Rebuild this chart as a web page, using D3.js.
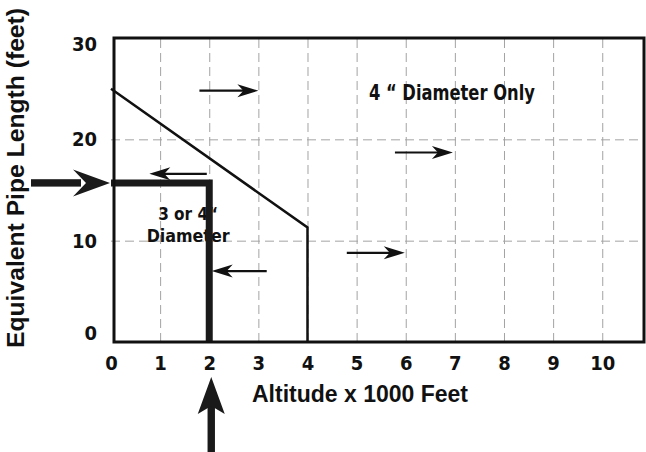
<!DOCTYPE html>
<html><head><meta charset="utf-8">
<script src="https://cdn.jsdelivr.net/npm/d3@7"></script>
<style>
body{margin:0;background:#fff}
svg text{font-family:"Liberation Sans Narrow","DejaVu Sans Condensed","Arial Narrow",sans-serif;font-weight:bold;fill:#111}
svg text.title{font-family:"Liberation Sans",Arial,Helvetica,sans-serif}
</style></head><body>
<script>
// axis ticks
const xTicks = [0, 1, 2, 3, 4, 5, 6, 7, 8, 9, 10];
const yTicks = [0, 10, 20, 30];
// altitude (x1000 ft) vs equivalent pipe length (ft)
const boundary = [[0, 25], [4, 11.3], [4, 0]];
const example = [[0, 15.7], [2, 15.7], [2, 0]];
// small arrows: from x, to x, at y
const arrowFrom = [1.8, 1.95, 3.17, 4.8, 5.78];
const arrowTo   = [3.0, 0.78, 2.05, 5.98, 6.96];
const arrowY    = [24.8, 16.6, 7.0, 8.8, 18.7];
// notes inside the chart
const noteText = ["4 \u201C Diameter Only", "3 or 4\u201C", "Diameter"];
const noteX = [5.25, 1.57, 1.57];
const noteY = [23.9, 12.0, 9.9];
const noteWidth = [166, 60, 83];

const w = 646, h = 452;
const svg = d3.select("body").append("svg").attr("width", w).attr("height", h);

const x = d3.scaleLinear().domain([0, 10.85]).range([111, 644]);
const y = d3.scaleLinear().domain([0, 30]).range([342, 38]);

// grid
const grid = svg.append("g");
grid.append("g").attr("transform", `translate(0,${y(0)})`)
  .call(d3.axisBottom(x).tickValues(xTicks.slice(1)).tickSize(-(y(0) - y(30))).tickFormat(""));
grid.append("g").attr("transform", `translate(${x(0)},0)`)
  .call(d3.axisLeft(y).tickValues([10, 20]).tickSize(-(x(10.85) - x(0))).tickFormat(""));
grid.selectAll(".domain").remove();
grid.selectAll(".tick line").attr("stroke", "#a3a3a3").attr("stroke-width", 1).attr("stroke-dasharray", "9,5");

// notes
svg.append("g").selectAll("text").data(noteText).enter().append("text")
  .attr("x", (d, i) => x(noteX[i]))
  .attr("y", (d, i) => y(noteY[i]))
  .attr("text-anchor", (d, i) => i === 0 ? "start" : "middle")
  .attr("font-size", (d, i) => i === 0 ? 20.5 : 18.5)
  .attr("textLength", (d, i) => noteWidth[i])
  .attr("lengthAdjust", "spacingAndGlyphs")
  .text(d => d);

const line = d3.line().x(d => x(d[0])).y(d => y(d[1]));

svg.append("path").datum(boundary).attr("d", line)
  .attr("fill", "none").attr("stroke", "#111").attr("stroke-width", 2.5);

// small arrows
const arrows = svg.append("g");
arrowY.forEach((v, i) => {
  const x0 = x(arrowFrom[i]), x1 = x(arrowTo[i]), yy = y(v);
  const dir = x1 > x0 ? 1 : -1;
  arrows.append("line").attr("x1", x0).attr("x2", x1 - dir * 8).attr("y1", yy).attr("y2", yy)
    .attr("stroke", "#111").attr("stroke-width", 2.2);
  arrows.append("path")
    .attr("d", `M${x1},${yy} L${x1 - dir * 21},${yy - 6.5} L${x1 - dir * 15},${yy} L${x1 - dir * 21},${yy + 6.5} Z`)
    .attr("fill", "#111");
});

// example path
svg.append("path").datum(example).attr("d", line)
  .attr("fill", "none").attr("stroke", "#1a1a1a").attr("stroke-width", 7)
  .attr("stroke-linejoin", "miter");

// frame
svg.append("rect").attr("x", x(0) + 3).attr("y", y(30)).attr("width", x(10.85) - x(0) - 3)
  .attr("height", y(0) - y(30)).attr("fill", "none").attr("stroke", "#111").attr("stroke-width", 3);

// big pointer arrows
const ey = y(example[0][1]);
svg.append("rect").attr("x", 31).attr("y", ey - 3.7).attr("width", 50).attr("height", 7.4).attr("fill", "#1a1a1a");
svg.append("path").attr("d", `M110,${ey} L73,${ey - 13.5} L86,${ey} L73,${ey + 13.5} Z`).attr("fill", "#1a1a1a");
const ex = x(example[1][0]) + 2;
svg.append("rect").attr("x", ex - 3.7).attr("y", 400).attr("width", 7.4).attr("height", 52).attr("fill", "#1a1a1a");
svg.append("path").attr("d", `M${ex},377 L${ex - 13.5},414 L${ex},406 L${ex + 13.5},414 Z`).attr("fill", "#1a1a1a");

// tick labels
const xa = svg.append("g").attr("transform", `translate(0,${y(0)})`)
  .call(d3.axisBottom(x).tickValues(xTicks).tickSize(0).tickPadding(14));
const ya = svg.append("g").attr("transform", `translate(${x(0) + 3},0)`)
  .call(d3.axisLeft(y).tickValues(yTicks).tickSize(0).tickPadding(17));
[xa, ya].forEach(a => {
  a.select(".domain").remove();
  a.attr("font-family", null).attr("font-size", 20);
});
ya.selectAll(".tick text").attr("dy", d => d === 30 ? "0.62em" : d === 0 ? "-0.12em" : "0.32em");

// titles
svg.append("text").attr("class", "title")
  .attr("x", 360).attr("y", 402).attr("text-anchor", "middle")
  .attr("font-size", 23).text("Altitude x 1000 Feet");
svg.append("text").attr("class", "title")
  .attr("transform", "translate(24,178) rotate(-90)").attr("text-anchor", "middle")
  .attr("font-size", 23.5).attr("textLength", 340).attr("lengthAdjust", "spacingAndGlyphs")
  .text("Equivalent Pipe Length (feet)");
</script>
</body></html>
